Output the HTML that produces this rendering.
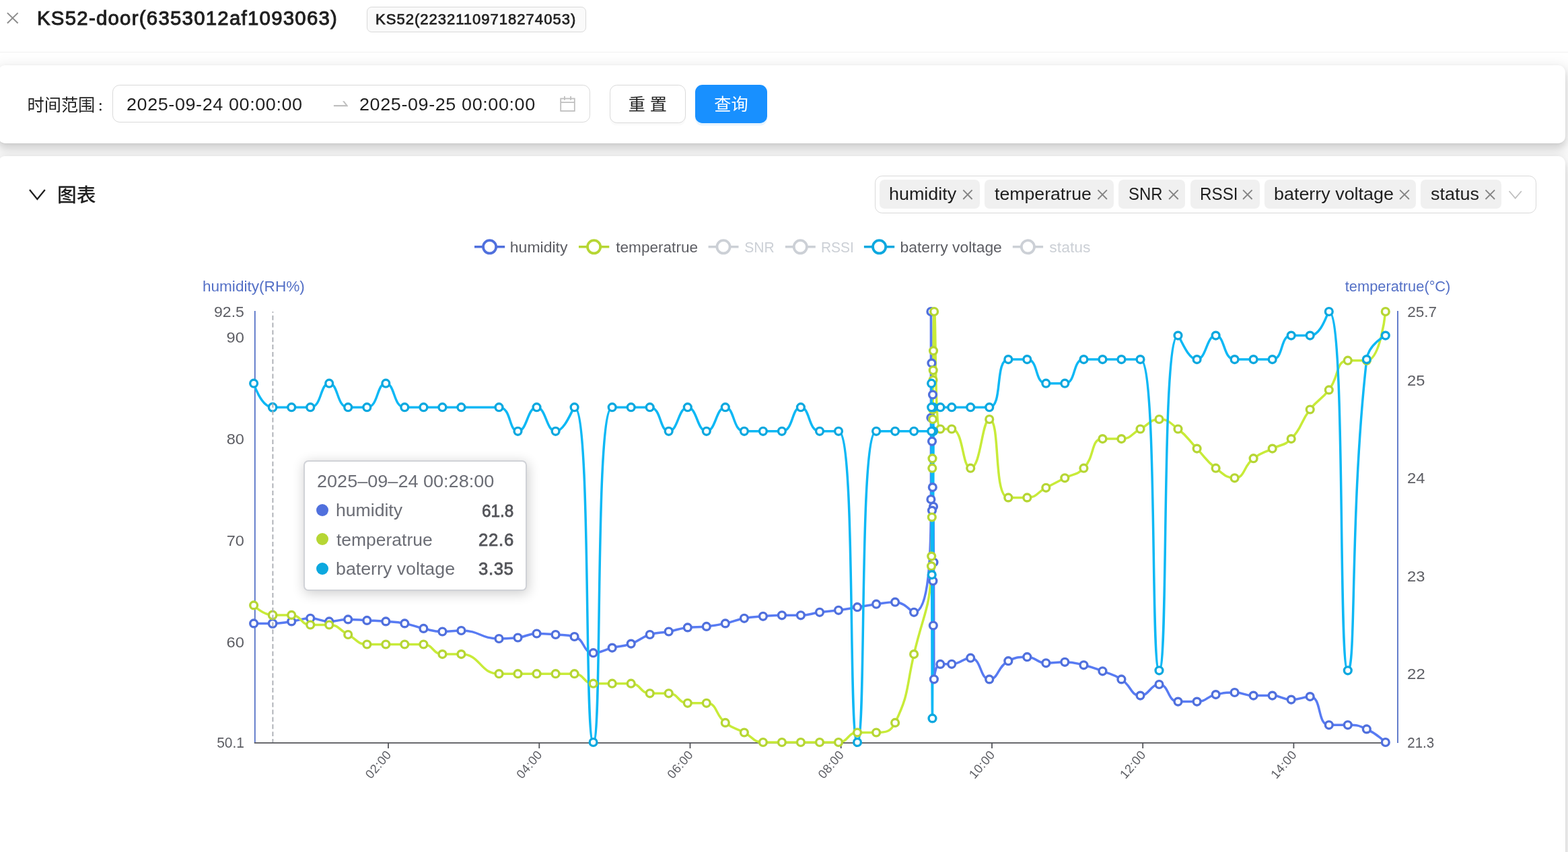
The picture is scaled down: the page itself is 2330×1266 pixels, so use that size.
<!DOCTYPE html>
<html lang="zh-CN"><head><meta charset="utf-8"><title>KS52-door(6353012af1093063)</title>
<style>
html,body{margin:0;padding:0;width:2330px;height:1266px;overflow:hidden}
body{width:2330px;height:1266px;overflow:hidden;position:relative;background:#fff;font-family:"Liberation Sans",sans-serif}
.t{position:absolute;white-space:nowrap;display:block;transform-origin:0 0}
.abs{position:absolute;box-sizing:border-box}
.card{position:absolute;box-sizing:border-box;background:#fff;border-radius:10.8px;
 box-shadow:0 1.8px 3.6px -3.6px rgba(0,0,0,.16),0 5.4px 10.8px 0 rgba(0,0,0,.12),0 9px 21.6px 7.2px rgba(0,0,0,.09)}
.box{position:absolute;box-sizing:border-box;border:1.8px solid #d9d9d9;border-radius:10.8px;background:#fff}
.tag{position:absolute;box-sizing:border-box;background:rgba(0,0,0,.06);border-radius:7.2px;top:267.2px;height:42.5px}
svg{position:absolute;left:0;top:0;overflow:visible}
svg text{font-family:"Liberation Sans",sans-serif}
svg text.cjk{font-family:"Liberation Sans","Noto Sans CJK SC",sans-serif}
</style></head><body>
<div id="app" style="position:absolute;left:0;top:0;width:2330px;height:1266px;overflow:hidden;will-change:transform">

<div class="abs" style="left:0;top:0;width:2330px;height:78.3px;border-bottom:1.8px solid #f0f0f0;background:#fff"></div>
<span class="t" style="left:54.99px;top:10.02px;font-size:28.8px;line-height:34.6px;transform:scaleX(1.0200);letter-spacing:1.233px;color:#1f1f1f;-webkit-text-stroke:1.0px #1f1f1f;">KS52-door(6353012af1093063)</span>
<div class="abs" style="left:545.3px;top:10.1px;width:325.3px;height:37.5px;border:1.8px solid #d9d9d9;border-radius:7.2px;background:#fafafa"></div>
<span class="t" style="left:557.67px;top:16.27px;font-size:21.6px;line-height:25.9px;transform:scaleX(1.0200);letter-spacing:0.983px;color:#1f1f1f;-webkit-text-stroke:0.75px #1f1f1f;">KS52(22321109718274053)</span>
<div class="card" style="left:-2.7px;top:97.2px;width:2329.1px;height:115.4px"></div>
<div class="card" style="left:-2.7px;top:231.6px;width:2329.1px;height:1200px"></div>
<div class="box" style="left:167.3px;top:126.1px;width:709.5px;height:55.6px"></div>
<span class="t" style="left:187.84px;top:140.17px;font-size:25.2px;line-height:30.2px;transform:scaleX(1.0700);letter-spacing:0.562px;color:rgba(0,0,0,0.88);">2025-09-24 00:00:00</span>
<span class="t" style="left:534.24px;top:140.17px;font-size:25.2px;line-height:30.2px;transform:scaleX(1.0700);letter-spacing:0.568px;color:rgba(0,0,0,0.88);">2025-09-25 00:00:00</span>
<div class="box" style="left:906.3px;top:126.1px;width:112.3px;height:56.6px;box-shadow:0 3.6px 0 rgba(0,0,0,.02)"></div>
<div class="abs" style="left:1033px;top:126.1px;width:106.9px;height:56.6px;border-radius:10.8px;background:#1890ff;box-shadow:0 3.6px 0 rgba(5,145,255,.1)"></div>
<div class="box" style="left:1300.1px;top:261.3px;width:982.7px;height:55.5px"></div>
<div class="tag" style="left:1307.2px;width:148.7px"></div>
<span class="t" style="left:1320.73px;top:272.97px;font-size:25.2px;line-height:30.2px;transform:scaleX(1.0680);letter-spacing:0.000px;color:rgba(0,0,0,0.88);">humidity</span>
<div class="tag" style="left:1463.2px;width:191.6px"></div>
<span class="t" style="left:1478.40px;top:272.97px;font-size:25.2px;line-height:30.2px;transform:scaleX(1.0590);letter-spacing:0.000px;color:rgba(0,0,0,0.88);">temperatrue</span>
<div class="tag" style="left:1661.9px;width:99.1px"></div>
<span class="t" style="left:1677.31px;top:272.97px;font-size:25.2px;line-height:30.2px;transform:scaleX(0.9491);letter-spacing:0.000px;color:rgba(0,0,0,0.88);">SNR</span>
<div class="tag" style="left:1768.9px;width:103.1px"></div>
<span class="t" style="left:1782.91px;top:272.97px;font-size:25.2px;line-height:30.2px;transform:scaleX(0.9628);letter-spacing:0.000px;color:rgba(0,0,0,0.88);">RSSI</span>
<div class="tag" style="left:1879.1px;width:225.0px"></div>
<span class="t" style="left:1892.97px;top:272.97px;font-size:25.2px;line-height:30.2px;transform:scaleX(1.0680);letter-spacing:0.000px;color:rgba(0,0,0,0.88);">baterry voltage</span>
<div class="tag" style="left:2111.2px;width:119.9px"></div>
<span class="t" style="left:2126.25px;top:272.97px;font-size:25.2px;line-height:30.2px;transform:scaleX(1.0700);letter-spacing:0.016px;color:rgba(0,0,0,0.88);">status</span>
<svg width="2330" height="1266" viewBox="0 0 2330 1266">
<path d="M10.9 19.1L26.6 34.5M26.6 19.1L10.9 34.5" stroke="rgba(0,0,0,.45)" stroke-width="2" fill="none"/>
<text class="cjk" x="40.5 65.7 90.9 116.1" y="164.5" font-size="25.2" fill="rgba(0,0,0,0.88)">时间范围</text>
<circle cx="149.3" cy="154.6" r="1.5" fill="rgba(0,0,0,0.88)"/><circle cx="149.3" cy="163.1" r="1.5" fill="rgba(0,0,0,0.88)"/>
<path d="M495.9 156H513.6L509 150.3H511.6L517 157.3V158.2H495.9Z" fill="#bfbfbf"/>
<g stroke="#bfbfbf" stroke-width="1.8" fill="none"><rect x="833.2" y="146.5" width="20.6" height="18.4"/><path d="M833.2 152.1H853.8M838.9 143.1V148.7M848.1 143.1V148.7"/></g>
<text class="cjk" x="933.8 965.8" y="164.4" font-size="25.2" fill="rgba(0,0,0,0.88)">重置</text>
<text class="cjk" x="1061.3 1086.5" y="164.4" font-size="25.2" fill="#fff">查询</text>
<path d="M44 282L55.4 296L66.8 282" stroke="#1f1f1f" stroke-width="2.3" fill="none"/>
<text class="cjk" x="84.9 113.7" y="299.5" font-size="28.8" font-weight="500" fill="rgba(0,0,0,0.88)">图表</text>
<path d="M1431.3 282.4L1444.6 296M1444.6 282.4L1431.3 296" stroke="rgba(0,0,0,.45)" stroke-width="1.9" fill="none"/>
<path d="M1631.5 282.4L1644.9 296M1644.9 282.4L1631.5 296" stroke="rgba(0,0,0,.45)" stroke-width="1.9" fill="none"/>
<path d="M1737.1 282.4L1750.7 296M1750.7 282.4L1737.1 296" stroke="rgba(0,0,0,.45)" stroke-width="1.9" fill="none"/>
<path d="M1847.1 282.4L1860.6 296M1860.6 282.4L1847.1 296" stroke="rgba(0,0,0,.45)" stroke-width="1.9" fill="none"/>
<path d="M2080.1 282.4L2093.9 296M2093.9 282.4L2080.1 296" stroke="rgba(0,0,0,.45)" stroke-width="1.9" fill="none"/>
<path d="M2207.5 282.4L2221.1 296M2221.1 282.4L2207.5 296" stroke="rgba(0,0,0,.45)" stroke-width="1.9" fill="none"/>
<path d="M2242.6 284L2251.7 294.6L2260.8 284" stroke="rgba(0,0,0,.25)" stroke-width="1.8" fill="none"/>
<path d="M705.0 366.8H750.2" stroke="#5070dd" stroke-width="3.6"/>
<circle cx="727.6" cy="366.8" r="9.6" fill="#fff" stroke="#5070dd" stroke-width="3.8"/>
<text transform="translate(757.80 374.60) scale(1.0660 1)" font-size="21.6" letter-spacing="0.000" fill="#5c5d63">humidity</text>
<path d="M860.0 366.8H905.3" stroke="#b6d634" stroke-width="3.6"/>
<circle cx="882.6" cy="366.8" r="9.6" fill="#fff" stroke="#b6d634" stroke-width="3.8"/>
<text transform="translate(915.26 374.60) scale(1.0463 1)" font-size="21.6" letter-spacing="0.000" fill="#5c5d63">temperatrue</text>
<path d="M1052.6 366.8H1097.5" stroke="#ccd0d6" stroke-width="3.6"/>
<circle cx="1075.0" cy="366.8" r="9.6" fill="#fff" stroke="#ccd0d6" stroke-width="3.8"/>
<text transform="translate(1106.24 374.60) scale(0.9766 1)" font-size="21.6" letter-spacing="0.000" fill="#ccd0d6">SNR</text>
<path d="M1166.9 366.8H1211.8" stroke="#ccd0d6" stroke-width="3.6"/>
<circle cx="1189.3" cy="366.8" r="9.6" fill="#fff" stroke="#ccd0d6" stroke-width="3.8"/>
<text transform="translate(1219.98 374.60) scale(0.9711 1)" font-size="21.6" letter-spacing="0.000" fill="#ccd0d6">RSSI</text>
<path d="M1283.9 366.8H1329.2" stroke="#0ca8df" stroke-width="3.6"/>
<circle cx="1306.6" cy="366.8" r="9.6" fill="#fff" stroke="#0ca8df" stroke-width="3.8"/>
<text transform="translate(1337.42 374.60) scale(1.0603 1)" font-size="21.6" letter-spacing="0.000" fill="#5c5d63">baterry voltage</text>
<path d="M1504.8 366.8H1550.1" stroke="#ccd0d6" stroke-width="3.6"/>
<circle cx="1527.4" cy="366.8" r="9.6" fill="#fff" stroke="#ccd0d6" stroke-width="3.8"/>
<text transform="translate(1559.36 374.60) scale(1.0614 1)" font-size="21.6" letter-spacing="0.000" fill="#ccd0d6">status</text>
<text transform="translate(300.93 433.20) scale(1.0465 1)" font-size="21.6" letter-spacing="0.000" fill="#5470c6">humidity(RH%)</text>
<text transform="translate(1998.77 433.20) scale(1.0103 1)" font-size="21.6" letter-spacing="0.000" fill="#5470c6">temperatrue(°C)</text>
<path d="M378.8 462V1103.9M2077 462V1103.9" stroke="#5470c6" stroke-width="1.8" fill="none"/>
<path d="M377.8 1103.9H2058.9" stroke="#54555a" stroke-width="1.8" fill="none"/>
<text transform="translate(577.4 1117.6) rotate(-49.5)" text-anchor="end" font-size="18.4" fill="#5c5d63" letter-spacing="0.37" dy="6.6">02:00</text>
<text transform="translate(801.7 1117.6) rotate(-49.5)" text-anchor="end" font-size="18.4" fill="#5c5d63" letter-spacing="0.37" dy="6.6">04:00</text>
<text transform="translate(1025.9 1117.6) rotate(-49.5)" text-anchor="end" font-size="18.4" fill="#5c5d63" letter-spacing="0.37" dy="6.6">06:00</text>
<text transform="translate(1250.1 1117.6) rotate(-49.5)" text-anchor="end" font-size="18.4" fill="#5c5d63" letter-spacing="0.37" dy="6.6">08:00</text>
<text transform="translate(1474.4 1117.6) rotate(-49.5)" text-anchor="end" font-size="18.4" fill="#5c5d63" letter-spacing="0.37" dy="6.6">10:00</text>
<text transform="translate(1698.6 1117.6) rotate(-49.5)" text-anchor="end" font-size="18.4" fill="#5c5d63" letter-spacing="0.37" dy="6.6">12:00</text>
<text transform="translate(1922.8 1117.6) rotate(-49.5)" text-anchor="end" font-size="18.4" fill="#5c5d63" letter-spacing="0.37" dy="6.6">14:00</text>
<path d="M577.0 1103.9V1112M801.3 1103.9V1112M1025.5 1103.9V1112M1249.7 1103.9V1112M1474.0 1103.9V1112M1698.2 1103.9V1112M1922.4 1103.9V1112" stroke="#54555a" stroke-width="1.8" fill="none"/>
<text transform="translate(318.02 471.20) scale(1.0106 1)" font-size="22.8" letter-spacing="0.000" fill="#5c5d63">92.5</text>
<text transform="translate(336.59 508.94) scale(1.0341 1)" font-size="22.8" letter-spacing="0.000" fill="#5c5d63">90</text>
<text transform="translate(336.68 659.88) scale(1.0307 1)" font-size="22.8" letter-spacing="0.000" fill="#5c5d63">80</text>
<text transform="translate(336.70 810.82) scale(1.0300 1)" font-size="22.8" letter-spacing="0.000" fill="#5c5d63">70</text>
<text transform="translate(336.50 961.77) scale(1.0381 1)" font-size="22.8" letter-spacing="0.000" fill="#5c5d63">60</text>
<text transform="translate(322.16 1111.20) scale(0.9186 1)" font-size="22.8" letter-spacing="0.000" fill="#5c5d63">50.1</text>
<text transform="translate(2091.16 471.20) scale(0.9909 1)" font-size="22.8" letter-spacing="0.000" fill="#5c5d63">25.7</text>
<text transform="translate(2091.11 573.02) scale(1.0406 1)" font-size="22.8" letter-spacing="0.000" fill="#5c5d63">25</text>
<text transform="translate(2091.10 718.47) scale(1.0448 1)" font-size="22.8" letter-spacing="0.000" fill="#5c5d63">24</text>
<text transform="translate(2091.10 863.93) scale(1.0426 1)" font-size="22.8" letter-spacing="0.000" fill="#5c5d63">23</text>
<text transform="translate(2091.10 1009.38) scale(1.0491 1)" font-size="22.8" letter-spacing="0.000" fill="#5c5d63">22</text>
<text transform="translate(2091.27 1111.20) scale(0.8999 1)" font-size="22.8" letter-spacing="0.000" fill="#5c5d63">21.3</text>
<path d="M377.1 926.4C377.1 926.4 391.2 926.4 405.1 926.4C419.2 926.4 419.2 925.3 433.2 923.4C447.2 921.5 447.2 918.8 461.2 918.8C475.2 918.8 475.2 923.4 489.2 923.4C503.2 923.4 503.2 920.4 517.2 920.4C531.2 920.4 531.3 921.1 545.3 921.9C559.3 922.6 559.3 922.2 573.3 923.4C587.3 924.5 587.5 923.8 601.3 926.4C615.6 929.1 615.2 930.9 629.4 933.9C643.2 936.9 643.3 938.5 657.4 938.5C671.3 938.5 671.6 937 685.4 937C713.6 937 713.3 949 741.5 949C755.3 949 755.6 949 769.5 947.5C783.7 946 783.4 941.5 797.5 941.5C811.4 941.5 811.6 941.9 825.6 943C839.6 944.1 841.5 943 853.6 946C869.5 950 865.9 970.2 881.6 970.2C893.9 970.2 895.6 966 909.7 962.6C923.6 959.2 924.2 961.3 937.7 956.6C952.3 951.5 951 947.7 965.7 943C979.1 938.7 979.8 941.1 993.7 938.5C1007.8 935.8 1007.6 934 1021.8 932.4C1035.6 930.9 1035.9 932.4 1049.8 930.9C1063.9 929.4 1064 929.4 1077.8 926.4C1092 923.3 1091.6 921.5 1105.9 918.8C1119.7 916.2 1119.8 917 1133.9 915.8C1147.9 914.7 1147.9 914.3 1161.9 914.3C1175.9 914.3 1176 914.3 1189.9 914.3C1204 914.3 1203.9 911.7 1218 909.8C1231.9 907.9 1232 908.7 1246 906.8C1260.1 904.9 1260 904.5 1274 902.2C1288 900 1288 899.6 1302.1 897.7C1316 895.8 1316.9 894.7 1330.1 894.7C1345 894.7 1353.9 909.8 1358.1 909.8C1380.6 909.8 1383.4 826.3 1383.4 742C1383.4 681.8 1383.4 681.4 1383.4 620.8C1383.4 541.9 1383.4 463 1383.4 463C1383.4 463 1384.1 501.3 1384.4 539.6C1384.9 597.7 1385 597.7 1385 655.8C1385 707.2 1385 758.6 1385 758.6C1385 758.6 1385.7 741.4 1385.8 724.1C1386 655.3 1385.9 586.5 1386 586.5C1386.2 586.5 1386.1 724.9 1386.4 863.2C1386.5 896.4 1386.7 929.5 1386.8 929.5C1387 929.5 1386.8 752.8 1387 752.8C1387.1 752.8 1387.4 794.1 1387.5 835.5C1387.8 922.4 1387.5 1009.3 1387.9 1009.3C1388 1009.3 1389.5 987.1 1397.3 986.9C1402.7 986.8 1406 986.9 1414.2 986.8C1428.4 986.6 1430.7 977.7 1442.2 977.7C1458.7 977.7 1455.7 1009.4 1470.2 1009.4C1483.7 1009.4 1482.1 990.5 1498.3 982.2C1510.1 976.2 1512.5 976.2 1526.3 976.2C1540.5 976.2 1540 985.3 1554.3 985.3C1568 985.3 1568.4 983.8 1582.3 983.8C1596.4 983.8 1596.6 984.9 1610.4 988.3C1624.6 991.7 1624.6 992.2 1638.4 997.3C1652.7 1002.7 1653.8 1001.2 1666.4 1009.4C1681.8 1019.3 1679.6 1033.6 1694.5 1033.6C1707.6 1033.6 1709.6 1017 1722.5 1017C1737.6 1017 1734.4 1042.6 1750.5 1042.6C1762.4 1042.6 1765 1042.6 1778.6 1042.6C1793 1042.6 1792.1 1035.3 1806.6 1032.1C1820.2 1029 1820.6 1029 1834.6 1029C1848.7 1029 1848.5 1033.6 1862.6 1033.6C1876.6 1033.6 1876.8 1033.6 1890.7 1033.6C1904.8 1033.6 1904.6 1039.6 1918.7 1039.6C1932.6 1039.6 1936.7 1035.1 1946.7 1035.1C1964.7 1035.1 1956.7 1077.3 1974.8 1077.3C1984.7 1077.3 1988.9 1077.3 2002.8 1077.3C2017 1077.3 2018 1077.5 2030.8 1083.4C2046.1 1090.4 2058.8 1103 2058.8 1103" fill="none" stroke="rgb(88,123,243)" stroke-width="3.5" stroke-linejoin="bevel"/>
<path d="M377.1 899.4C377.1 899.4 390.3 913.9 405.1 913.9C418.3 913.9 420 913.9 433.2 913.9C448 913.9 446.3 928.5 461.2 928.5C474.4 928.5 476 928.5 489.2 928.5C504.1 928.5 503.2 935.7 517.2 943C531.3 950.3 530.4 957.5 545.3 957.5C558.5 957.5 559.3 957.5 573.3 957.5C587.3 957.5 587.3 957.5 601.3 957.5C615.3 957.5 616.2 957.5 629.4 957.5C644.2 957.5 642.5 972.1 657.4 972.1C670.6 972.1 672.5 972.1 685.4 972.1C714.5 972.1 712.4 1001.2 741.5 1001.2C754.4 1001.2 755.5 1001.2 769.5 1001.2C783.5 1001.2 783.5 1001.2 797.5 1001.2C811.5 1001.2 811.5 1001.2 825.6 1001.2C839.6 1001.2 840.4 1001.2 853.6 1001.2C868.4 1001.2 866.8 1015.7 881.6 1015.7C894.8 1015.7 895.6 1015.7 909.7 1015.7C923.7 1015.7 924.5 1015.7 937.7 1015.7C952.5 1015.7 950.9 1030.3 965.7 1030.3C978.9 1030.3 980.6 1030.3 993.7 1030.3C1008.6 1030.3 1006.9 1044.8 1021.8 1044.8C1034.9 1044.8 1038.3 1044.8 1049.8 1044.8C1066.3 1044.8 1062.1 1061.7 1077.8 1073.9C1090.1 1083.5 1091.8 1081.2 1105.9 1088.5C1119.9 1095.7 1119 1103 1133.9 1103C1147.1 1103 1147.9 1103 1161.9 1103C1175.9 1103 1175.9 1103 1189.9 1103C1204 1103 1204 1103 1218 1103C1232 1103 1232.8 1103 1246 1103C1260.8 1103 1259.2 1088.5 1274 1088.5C1287.2 1088.5 1288.9 1088.5 1302.1 1088.5C1316.9 1088.5 1323.6 1087.3 1330.1 1073.9C1351.7 1029.1 1346.2 1023.5 1358.1 972.1C1373.2 907.1 1382.2 906.8 1384 841.2C1384.2 834 1384.1 833.9 1384.2 826.6C1384.5 797.5 1384.6 797.5 1384.8 768.5C1385.1 732.1 1385 732.1 1385.3 695.7C1385.4 688.5 1385.4 688.5 1385.5 681.2C1385.8 652.1 1385.7 652.1 1386 623C1386.1 615.7 1386.1 615.7 1386.2 608.5C1386.4 586.6 1386.3 586.6 1386.5 564.8C1386.6 557.5 1386.6 557.5 1386.7 550.3C1386.9 535.7 1386.8 535.7 1387 521.2C1387.5 492.1 1387 463 1388.1 463C1391.4 463 1388.1 637.5 1397.3 637.5C1398.2 637.5 1409.5 637.5 1414.2 637.5C1432 637.5 1429.5 695.7 1442.2 695.7C1457.5 695.7 1459.2 623 1470.2 623C1487.2 623 1475.5 739.4 1498.3 739.4C1503.6 739.4 1513.1 739.4 1526.3 739.4C1541.1 739.4 1540.3 732.1 1554.3 724.8C1568.3 717.5 1568.3 717.5 1582.3 710.3C1596.4 703 1599.8 706.7 1610.4 695.7C1627.8 677.6 1620.2 652.1 1638.4 652.1C1648.2 652.1 1653.3 652.1 1666.4 652.1C1681.3 652.1 1680.4 644.8 1694.5 637.5C1708.5 630.3 1708.5 623 1722.5 623C1736.5 623 1738.2 628 1750.5 637.5C1766.3 649.8 1764.5 652.1 1778.6 666.6C1792.6 681.2 1790.8 683.5 1806.6 695.7C1818.9 705.3 1822.3 710.3 1834.6 710.3C1850.3 710.3 1846.9 693.4 1862.6 681.2C1874.9 671.6 1876.7 673.9 1890.7 666.6C1904.7 659.4 1908.1 663.1 1918.7 652.1C1936.1 634 1931 628.9 1946.7 608.5C1959 592.5 1962.5 595.3 1974.8 579.4C1990.5 558.9 1984.6 535.7 2002.8 535.7C2012.6 535.7 2023.4 535.7 2030.8 535.7C2051.4 535.7 2058.8 463 2058.8 463" fill="none" stroke="rgb(200,235,57)" stroke-width="3.5" stroke-linejoin="bevel"/>
<path d="M377.1 569.7C377.1 569.7 387.8 605.2 405.1 605.2C415.8 605.2 419.1 605.2 433.2 605.2C447.2 605.2 450.5 605.2 461.2 605.2C478.5 605.2 475.2 569.7 489.2 569.7C503.2 569.7 499.9 605.2 517.2 605.2C528 605.2 534.6 605.2 545.3 605.2C562.6 605.2 559.3 569.7 573.3 569.7C587.3 569.7 584 605.2 601.3 605.2C612 605.2 615.3 605.2 629.4 605.2C643.4 605.2 643.4 605.2 657.4 605.2C671.4 605.2 671.4 605.2 685.4 605.2C713.4 605.2 718.2 605.2 741.5 605.2C760.3 605.2 755.5 640.8 769.5 640.8C783.5 640.8 783.5 605.2 797.5 605.2C811.5 605.2 811.5 640.8 825.6 640.8C839.6 640.8 851.3 605.2 853.6 605.2C879.3 605.2 867.6 1103 881.6 1103C895.6 1103 883.1 605.2 909.7 605.2C911.1 605.2 923.7 605.2 937.7 605.2C951.7 605.2 955 605.2 965.7 605.2C983 605.2 979.7 640.8 993.7 640.8C1007.8 640.8 1007.8 605.2 1021.8 605.2C1035.8 605.2 1035.8 640.8 1049.8 640.8C1063.8 640.8 1063.8 605.2 1077.8 605.2C1091.8 605.2 1088.5 640.8 1105.9 640.8C1116.6 640.8 1119.9 640.8 1133.9 640.8C1147.9 640.8 1151.2 640.8 1161.9 640.8C1179.2 640.8 1175.9 605.2 1189.9 605.2C1204 605.2 1200.7 640.8 1218 640.8C1228.7 640.8 1244.4 640.8 1246 640.8C1272.4 640.8 1260 1103 1274 1103C1288 1103 1275.6 640.8 1302.1 640.8C1303.7 640.8 1316.1 640.8 1330.1 640.8C1344.1 640.8 1344.1 640.8 1358.1 640.8C1371.2 640.8 1384.2 640.8 1384.2 640.8C1384.2 640.8 1384.2 623 1384.2 605.2C1384.2 587.4 1384.1 569.7 1384.1 569.7C1384.1 569.7 1384.3 711.9 1384.7 854.1C1385 960.8 1385.1 1067.4 1385.5 1067.4C1386.3 1067.4 1387.1 854.1 1387.1 640.8C1387.1 623 1386.9 605.2 1386.9 605.2C1386.9 605.2 1392.2 605.2 1397.4 605.2C1405.8 605.2 1405.8 605.2 1414.2 605.2C1428.2 605.2 1428.2 605.2 1442.2 605.2C1456.2 605.2 1462.7 605.2 1470.2 605.2C1490.7 605.2 1477.8 534.1 1498.3 534.1C1505.8 534.1 1515.6 534.1 1526.3 534.1C1543.6 534.1 1537 569.7 1554.3 569.7C1565 569.7 1571.6 569.7 1582.3 569.7C1599.7 569.7 1593.1 534.1 1610.4 534.1C1621.1 534.1 1624.4 534.1 1638.4 534.1C1652.4 534.1 1652.4 534.1 1666.4 534.1C1680.4 534.1 1692.9 534.1 1694.5 534.1C1720.9 534.1 1709 996.3 1722.5 996.3C1737 996.3 1724.8 498.6 1750.5 498.6C1752.9 498.6 1764.5 534.1 1778.6 534.1C1792.6 534.1 1792.6 498.6 1806.6 498.6C1820.6 498.6 1817.3 534.1 1834.6 534.1C1845.3 534.1 1848.6 534.1 1862.6 534.1C1876.7 534.1 1879.9 534.1 1890.7 534.1C1908 534.1 1901.4 498.6 1918.7 498.6C1929.4 498.6 1936 498.6 1946.7 498.6C1964 498.6 1972.6 463 1974.8 463C2000.6 463 1987.8 996.3 2002.8 996.3C2015.8 996.3 2005.3 760.8 2030.8 534.1C2033.3 511.9 2058.8 498.6 2058.8 498.6" fill="none" stroke="rgb(13,184,245)" stroke-width="3.5" stroke-linejoin="bevel"/>
<g fill="#fff" stroke="#5070dd" stroke-width="3.4">
<circle cx="2058.8" cy="1103.0" r="5.4"/>
<circle cx="2030.8" cy="1083.4" r="5.4"/>
<circle cx="2002.8" cy="1077.3" r="5.4"/>
<circle cx="1974.8" cy="1077.3" r="5.4"/>
<circle cx="1946.7" cy="1035.1" r="5.4"/>
<circle cx="1918.7" cy="1039.6" r="5.4"/>
<circle cx="1890.7" cy="1033.6" r="5.4"/>
<circle cx="1862.6" cy="1033.6" r="5.4"/>
<circle cx="1834.6" cy="1029.0" r="5.4"/>
<circle cx="1806.6" cy="1032.1" r="5.4"/>
<circle cx="1778.6" cy="1042.6" r="5.4"/>
<circle cx="1750.5" cy="1042.6" r="5.4"/>
<circle cx="1722.5" cy="1017.0" r="5.4"/>
<circle cx="1694.5" cy="1033.6" r="5.4"/>
<circle cx="1666.4" cy="1009.4" r="5.4"/>
<circle cx="1638.4" cy="997.3" r="5.4"/>
<circle cx="1610.4" cy="988.3" r="5.4"/>
<circle cx="1582.3" cy="983.8" r="5.4"/>
<circle cx="1554.3" cy="985.3" r="5.4"/>
<circle cx="1526.3" cy="976.2" r="5.4"/>
<circle cx="1498.3" cy="982.2" r="5.4"/>
<circle cx="1470.2" cy="1009.4" r="5.4"/>
<circle cx="1442.2" cy="977.7" r="5.4"/>
<circle cx="1414.2" cy="986.8" r="5.4"/>
<circle cx="1397.3" cy="986.9" r="5.4"/>
<circle cx="1387.9" cy="1009.3" r="5.4"/>
<circle cx="1387.5" cy="835.5" r="5.4"/>
<circle cx="1387.0" cy="752.8" r="5.4"/>
<circle cx="1386.8" cy="929.5" r="5.4"/>
<circle cx="1386.4" cy="863.2" r="5.4"/>
<circle cx="1386.0" cy="586.5" r="5.4"/>
<circle cx="1385.8" cy="724.1" r="5.4"/>
<circle cx="1385.0" cy="758.6" r="5.4"/>
<circle cx="1385.0" cy="655.8" r="5.4"/>
<circle cx="1384.4" cy="539.6" r="5.4"/>
<circle cx="1383.4" cy="463.0" r="5.4"/>
<circle cx="1383.4" cy="620.8" r="5.4"/>
<circle cx="1383.4" cy="742.0" r="5.4"/>
<circle cx="1358.1" cy="909.8" r="5.4"/>
<circle cx="1330.1" cy="894.7" r="5.4"/>
<circle cx="1302.1" cy="897.7" r="5.4"/>
<circle cx="1274.0" cy="902.2" r="5.4"/>
<circle cx="1246.0" cy="906.8" r="5.4"/>
<circle cx="1218.0" cy="909.8" r="5.4"/>
<circle cx="1189.9" cy="914.3" r="5.4"/>
<circle cx="1161.9" cy="914.3" r="5.4"/>
<circle cx="1133.9" cy="915.8" r="5.4"/>
<circle cx="1105.9" cy="918.8" r="5.4"/>
<circle cx="1077.8" cy="926.4" r="5.4"/>
<circle cx="1049.8" cy="930.9" r="5.4"/>
<circle cx="1021.8" cy="932.4" r="5.4"/>
<circle cx="993.7" cy="938.5" r="5.4"/>
<circle cx="965.7" cy="943.0" r="5.4"/>
<circle cx="937.7" cy="956.6" r="5.4"/>
<circle cx="909.7" cy="962.6" r="5.4"/>
<circle cx="881.6" cy="970.2" r="5.4"/>
<circle cx="853.6" cy="946.0" r="5.4"/>
<circle cx="825.6" cy="943.0" r="5.4"/>
<circle cx="797.5" cy="941.5" r="5.4"/>
<circle cx="769.5" cy="947.5" r="5.4"/>
<circle cx="741.5" cy="949.0" r="5.4"/>
<circle cx="685.4" cy="937.0" r="5.4"/>
<circle cx="657.4" cy="938.5" r="5.4"/>
<circle cx="629.4" cy="933.9" r="5.4"/>
<circle cx="601.3" cy="926.4" r="5.4"/>
<circle cx="573.3" cy="923.4" r="5.4"/>
<circle cx="545.3" cy="921.9" r="5.4"/>
<circle cx="517.2" cy="920.4" r="5.4"/>
<circle cx="489.2" cy="923.4" r="5.4"/>
<circle cx="461.2" cy="918.8" r="5.4"/>
<circle cx="433.2" cy="923.4" r="5.4"/>
<circle cx="405.1" cy="926.4" r="5.7"/>
<circle cx="377.1" cy="926.4" r="5.4"/>
</g>
<g fill="#fff" stroke="#b6d634" stroke-width="3.4">
<circle cx="2058.8" cy="463.0" r="5.4"/>
<circle cx="2030.8" cy="535.7" r="5.4"/>
<circle cx="2002.8" cy="535.7" r="5.4"/>
<circle cx="1974.8" cy="579.4" r="5.4"/>
<circle cx="1946.7" cy="608.5" r="5.4"/>
<circle cx="1918.7" cy="652.1" r="5.4"/>
<circle cx="1890.7" cy="666.6" r="5.4"/>
<circle cx="1862.6" cy="681.2" r="5.4"/>
<circle cx="1834.6" cy="710.3" r="5.4"/>
<circle cx="1806.6" cy="695.7" r="5.4"/>
<circle cx="1778.6" cy="666.6" r="5.4"/>
<circle cx="1750.5" cy="637.5" r="5.4"/>
<circle cx="1722.5" cy="623.0" r="5.4"/>
<circle cx="1694.5" cy="637.5" r="5.4"/>
<circle cx="1666.4" cy="652.1" r="5.4"/>
<circle cx="1638.4" cy="652.1" r="5.4"/>
<circle cx="1610.4" cy="695.7" r="5.4"/>
<circle cx="1582.3" cy="710.3" r="5.4"/>
<circle cx="1554.3" cy="724.8" r="5.4"/>
<circle cx="1526.3" cy="739.4" r="5.4"/>
<circle cx="1498.3" cy="739.4" r="5.4"/>
<circle cx="1470.2" cy="623.0" r="5.4"/>
<circle cx="1442.2" cy="695.7" r="5.4"/>
<circle cx="1414.2" cy="637.5" r="5.4"/>
<circle cx="1397.3" cy="637.5" r="5.4"/>
<circle cx="1388.1" cy="463.0" r="5.4"/>
<circle cx="1387.0" cy="521.2" r="5.4"/>
<circle cx="1386.7" cy="550.3" r="5.4"/>
<circle cx="1386.5" cy="564.8" r="5.4"/>
<circle cx="1386.2" cy="608.5" r="5.4"/>
<circle cx="1386.0" cy="623.0" r="5.4"/>
<circle cx="1385.5" cy="681.2" r="5.4"/>
<circle cx="1385.3" cy="695.7" r="5.4"/>
<circle cx="1384.8" cy="768.5" r="5.4"/>
<circle cx="1384.2" cy="826.6" r="5.4"/>
<circle cx="1384.0" cy="841.2" r="5.4"/>
<circle cx="1358.1" cy="972.1" r="5.4"/>
<circle cx="1330.1" cy="1073.9" r="5.4"/>
<circle cx="1302.1" cy="1088.5" r="5.4"/>
<circle cx="1274.0" cy="1088.5" r="5.4"/>
<circle cx="1246.0" cy="1103.0" r="5.4"/>
<circle cx="1218.0" cy="1103.0" r="5.4"/>
<circle cx="1189.9" cy="1103.0" r="5.4"/>
<circle cx="1161.9" cy="1103.0" r="5.4"/>
<circle cx="1133.9" cy="1103.0" r="5.4"/>
<circle cx="1105.9" cy="1088.5" r="5.4"/>
<circle cx="1077.8" cy="1073.9" r="5.4"/>
<circle cx="1049.8" cy="1044.8" r="5.4"/>
<circle cx="1021.8" cy="1044.8" r="5.4"/>
<circle cx="993.7" cy="1030.3" r="5.4"/>
<circle cx="965.7" cy="1030.3" r="5.4"/>
<circle cx="937.7" cy="1015.7" r="5.4"/>
<circle cx="909.7" cy="1015.7" r="5.4"/>
<circle cx="881.6" cy="1015.7" r="5.4"/>
<circle cx="853.6" cy="1001.2" r="5.4"/>
<circle cx="825.6" cy="1001.2" r="5.4"/>
<circle cx="797.5" cy="1001.2" r="5.4"/>
<circle cx="769.5" cy="1001.2" r="5.4"/>
<circle cx="741.5" cy="1001.2" r="5.4"/>
<circle cx="685.4" cy="972.1" r="5.4"/>
<circle cx="657.4" cy="972.1" r="5.4"/>
<circle cx="629.4" cy="957.5" r="5.4"/>
<circle cx="601.3" cy="957.5" r="5.4"/>
<circle cx="573.3" cy="957.5" r="5.4"/>
<circle cx="545.3" cy="957.5" r="5.4"/>
<circle cx="517.2" cy="943.0" r="5.4"/>
<circle cx="489.2" cy="928.5" r="5.4"/>
<circle cx="461.2" cy="928.5" r="5.4"/>
<circle cx="433.2" cy="913.9" r="5.4"/>
<circle cx="405.1" cy="913.9" r="5.7"/>
<circle cx="377.1" cy="899.4" r="5.4"/>
</g>
<g fill="#fff" stroke="#0ca8df" stroke-width="3.4">
<circle cx="2058.8" cy="498.6" r="5.4"/>
<circle cx="2030.8" cy="534.1" r="5.4"/>
<circle cx="2002.8" cy="996.3" r="5.4"/>
<circle cx="1974.8" cy="463.0" r="5.4"/>
<circle cx="1946.7" cy="498.6" r="5.4"/>
<circle cx="1918.7" cy="498.6" r="5.4"/>
<circle cx="1890.7" cy="534.1" r="5.4"/>
<circle cx="1862.6" cy="534.1" r="5.4"/>
<circle cx="1834.6" cy="534.1" r="5.4"/>
<circle cx="1806.6" cy="498.6" r="5.4"/>
<circle cx="1778.6" cy="534.1" r="5.4"/>
<circle cx="1750.5" cy="498.6" r="5.4"/>
<circle cx="1722.5" cy="996.3" r="5.4"/>
<circle cx="1694.5" cy="534.1" r="5.4"/>
<circle cx="1666.4" cy="534.1" r="5.4"/>
<circle cx="1638.4" cy="534.1" r="5.4"/>
<circle cx="1610.4" cy="534.1" r="5.4"/>
<circle cx="1582.3" cy="569.7" r="5.4"/>
<circle cx="1554.3" cy="569.7" r="5.4"/>
<circle cx="1526.3" cy="534.1" r="5.4"/>
<circle cx="1498.3" cy="534.1" r="5.4"/>
<circle cx="1470.2" cy="605.2" r="5.4"/>
<circle cx="1442.2" cy="605.2" r="5.4"/>
<circle cx="1414.2" cy="605.2" r="5.4"/>
<circle cx="1397.4" cy="605.2" r="5.4"/>
<circle cx="1386.9" cy="605.2" r="5.4"/>
<circle cx="1387.1" cy="640.8" r="5.4"/>
<circle cx="1385.5" cy="1067.4" r="5.4"/>
<circle cx="1384.7" cy="854.1" r="5.4"/>
<circle cx="1384.1" cy="569.7" r="5.4"/>
<circle cx="1384.2" cy="605.2" r="5.4"/>
<circle cx="1384.2" cy="640.8" r="5.4"/>
<circle cx="1358.1" cy="640.8" r="5.4"/>
<circle cx="1330.1" cy="640.8" r="5.4"/>
<circle cx="1302.1" cy="640.8" r="5.4"/>
<circle cx="1274.0" cy="1103.0" r="5.4"/>
<circle cx="1246.0" cy="640.8" r="5.4"/>
<circle cx="1218.0" cy="640.8" r="5.4"/>
<circle cx="1189.9" cy="605.2" r="5.4"/>
<circle cx="1161.9" cy="640.8" r="5.4"/>
<circle cx="1133.9" cy="640.8" r="5.4"/>
<circle cx="1105.9" cy="640.8" r="5.4"/>
<circle cx="1077.8" cy="605.2" r="5.4"/>
<circle cx="1049.8" cy="640.8" r="5.4"/>
<circle cx="1021.8" cy="605.2" r="5.4"/>
<circle cx="993.7" cy="640.8" r="5.4"/>
<circle cx="965.7" cy="605.2" r="5.4"/>
<circle cx="937.7" cy="605.2" r="5.4"/>
<circle cx="909.7" cy="605.2" r="5.4"/>
<circle cx="881.6" cy="1103.0" r="5.4"/>
<circle cx="853.6" cy="605.2" r="5.4"/>
<circle cx="825.6" cy="640.8" r="5.4"/>
<circle cx="797.5" cy="605.2" r="5.4"/>
<circle cx="769.5" cy="640.8" r="5.4"/>
<circle cx="741.5" cy="605.2" r="5.4"/>
<circle cx="685.4" cy="605.2" r="5.4"/>
<circle cx="657.4" cy="605.2" r="5.4"/>
<circle cx="629.4" cy="605.2" r="5.4"/>
<circle cx="601.3" cy="605.2" r="5.4"/>
<circle cx="573.3" cy="569.7" r="5.4"/>
<circle cx="545.3" cy="605.2" r="5.4"/>
<circle cx="517.2" cy="605.2" r="5.4"/>
<circle cx="489.2" cy="569.7" r="5.4"/>
<circle cx="461.2" cy="605.2" r="5.4"/>
<circle cx="433.2" cy="605.2" r="5.4"/>
<circle cx="405.1" cy="605.2" r="5.7"/>
<circle cx="377.1" cy="569.7" r="5.4"/>
</g>
<path d="M405.4 463V1103" stroke="#a9abb2" stroke-width="1.8" stroke-dasharray="6.95 3.9" stroke-dashoffset="5.15" fill="none"/>
</svg>
<div class="abs" style="left:451px;top:683.8px;width:332px;height:194px;border:2px solid #d0d2d7;border-radius:7.2px;background:#fff;box-shadow:1.8px 3.6px 18px rgba(0,0,0,.2)"></div>
<span class="t" style="left:470.84px;top:699.70px;font-size:26.4px;line-height:31.7px;transform:scaleX(1.0253);letter-spacing:0.000px;color:#6b6d75;">2025–09–24 00:28:00</span>
<div class="abs" style="left:470.3px;top:749.0px;width:18px;height:18px;border-radius:50%;background:#5070dd"></div>
<span class="t" style="left:498.75px;top:743.17px;font-size:25.2px;line-height:30.2px;transform:scaleX(1.0561);letter-spacing:0.000px;color:#6b6d75;">humidity</span>
<span class="t" style="left:715.86px;top:743.57px;font-size:25.2px;line-height:30.2px;transform:scaleX(0.9663);letter-spacing:0.000px;color:#54555a;-webkit-text-stroke:0.8px #54555a;">61.8</span>
<div class="abs" style="left:470.3px;top:792.4px;width:18px;height:18px;border-radius:50%;background:#b6d634"></div>
<span class="t" style="left:500.20px;top:786.57px;font-size:25.2px;line-height:30.2px;transform:scaleX(1.0501);letter-spacing:0.000px;color:#6b6d75;">temperatrue</span>
<span class="t" style="left:711.11px;top:786.97px;font-size:25.2px;line-height:30.2px;transform:scaleX(1.0200);letter-spacing:0.717px;color:#54555a;-webkit-text-stroke:0.8px #54555a;">22.6</span>
<div class="abs" style="left:470.3px;top:835.9px;width:18px;height:18px;border-radius:50%;background:#0ca8df"></div>
<span class="t" style="left:498.87px;top:830.07px;font-size:25.2px;line-height:30.2px;transform:scaleX(1.0625);letter-spacing:0.000px;color:#6b6d75;">baterry voltage</span>
<span class="t" style="left:711.42px;top:830.47px;font-size:25.2px;line-height:30.2px;transform:scaleX(1.0200);letter-spacing:0.598px;color:#54555a;-webkit-text-stroke:0.8px #54555a;">3.35</span>
</div></body></html>
